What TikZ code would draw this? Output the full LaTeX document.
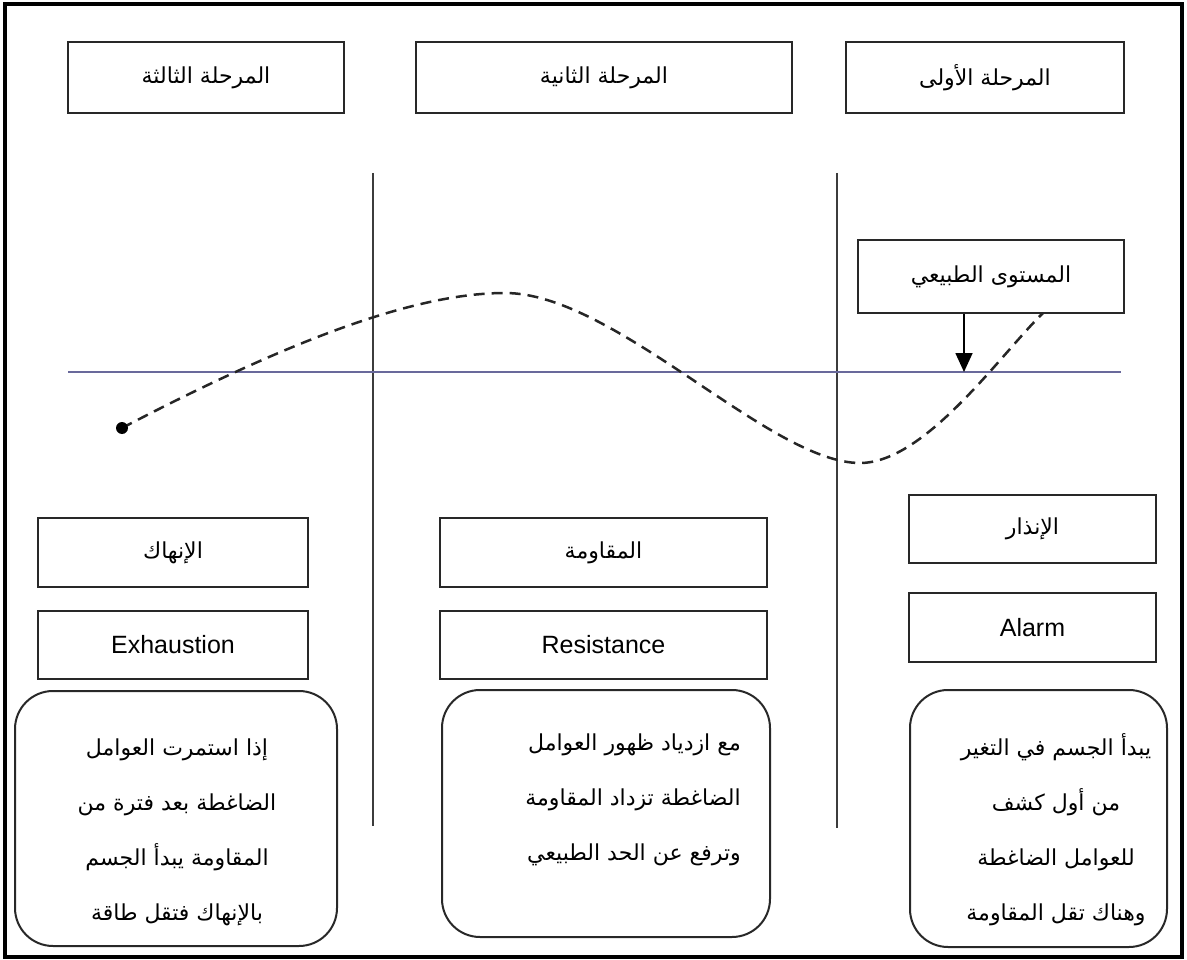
\documentclass[tikz,border=0pt]{standalone}
\usepackage{fontspec}
\setmainfont{Liberation Sans}
\newfontfamily\arabicfont[Script=Arabic]{DejaVu Sans}
\TeXXeTstate=1
\usetikzlibrary{arrows.meta}
\definecolor{edge}{RGB}{40,40,40}
\definecolor{divider}{RGB}{60,60,60}
\definecolor{levelblue}{RGB}{105,105,155}
\newcommand\artext[1]{{\arabicfont\beginR #1\endR}}
\begin{document}
\begin{tikzpicture}[x=1pt,y=-1pt,
  labelbox/.style={draw=edge, line width=2.2pt, inner sep=0pt,
    font=\fontsize{22}{26}\selectfont},
  englishbox/.style={labelbox, font=\fontsize{25}{30}\selectfont},
  notebox/.style={draw=edge, line width=2pt, rounded corners=38pt, inner sep=0pt},
  notetext/.style={inner sep=0pt, font=\arabicfont\fontsize{22}{55}\selectfont},
  divline/.style={draw=divider, line width=1.9pt},
  levelline/.style={draw=levelblue, line width=1.9pt},
  curveline/.style={draw=black!85, line width=2.5pt, dash pattern=on 11pt off 7pt},
  pointer/.style={draw=black, line width=1.7pt, -{Triangle[width=17pt,length=19pt]}}]
\useasboundingbox (0,0) rectangle (1187,960);
% outer frame
\draw[line width=4.5pt] (5,4) rectangle (1182,957);

% stage headings
\node[labelbox, minimum width=276pt, minimum height=71pt] (stage3) at (206,77.5) {\artext{المرحلة الثالثة}};
\node[labelbox, minimum width=376pt, minimum height=71pt] (stage2) at (604,77.5) {\artext{المرحلة الثانية}};
\node[labelbox, minimum width=278pt, minimum height=71pt] (stage1) at (985,77.5) {\artext{المرحلة الأولى}};

% stage dividers
\draw[divline] (373,173) -- (373,826);
\draw[divline] (837,173) -- (837,828);

% normal level
\node[labelbox, minimum width=266pt, minimum height=73pt] (level) at (991,276.5) {\artext{المستوى الطبيعي}};
\coordinate (lvl) at (964,372);
\draw[levelline] (68,372) -- (1121,372);
\draw[pointer] (level.south -| lvl) -- (lvl);

% resistance curve
\coordinate (start) at (122,428);
\coordinate (finish) at (1043,313);
\draw[curveline] (start) .. controls (300,335) and (420,293) .. (505,293)
  .. controls (615,293) and (770,463) .. (860,463)
  .. controls (925,463) and (1000,355) .. (finish);
\fill (start) circle (6pt);

% stage names
\node[labelbox, minimum width=270pt, minimum height=69pt] (exhAr) at (173,552.5) {\artext{الإنهاك}};
\node[englishbox, minimum width=270pt, minimum height=68pt] (exhEn) at (173,645) {Exhaustion};
\node[labelbox, minimum width=327pt, minimum height=69pt] (resAr) at (603.5,552.5) {\artext{المقاومة}};
\node[englishbox, minimum width=327pt, minimum height=68pt] (resEn) at (603.5,645) {Resistance};
\node[labelbox, minimum width=247pt, minimum height=68pt] (almAr) at (1032.5,529) {\artext{الإنذار}};
\node[englishbox, minimum width=247pt, minimum height=69pt] (almEn) at (1032.5,627.5) {Alarm};

% descriptions
\node[notebox, minimum width=322pt, minimum height=255pt] (exhNote) at (176,818.5) {};
\node[notebox, minimum width=328pt, minimum height=247pt] (resNote) at (606,813.5) {};
\node[notebox, minimum width=257pt, minimum height=257pt] (almNote) at (1038.5,818.5) {};

\node[notetext, align=center] (exhText) at (177,832) {%
  \beginR إذا استمرت العوامل\endR\\
  \beginR الضاغطة بعد فترة من\endR\\
  \beginR المقاومة يبدأ الجسم\endR\\
  \beginR بالإنهاك فتقل طاقة\endR};
\node[notetext, align=right, anchor=east] (resText) at (741,800) {%
  \beginR مع ازدياد ظهور العوامل\endR\\
  \beginR الضاغطة تزداد المقاومة\endR\\
  \beginR وترفع عن الحد الطبيعي\endR};
\node[notetext, align=center] (almText) at (1056,830) {%
  \beginR يبدأ الجسم في التغير\endR\\
  \beginR من أول كشف\endR\\
  \beginR للعوامل الضاغطة\endR\\
  \beginR وهناك تقل المقاومة\endR};
\end{tikzpicture}
\end{document}
